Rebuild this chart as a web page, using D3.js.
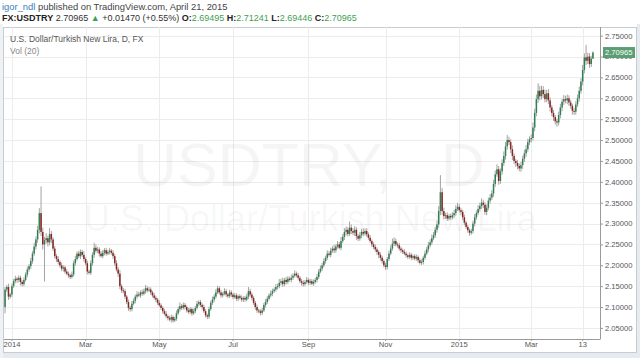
<!DOCTYPE html>
<html><head><meta charset="utf-8">
<script src="https://cdn.jsdelivr.net/npm/d3@7"></script>
<style>
html,body{margin:0;padding:0;background:#fff;}
svg{display:block;font-family:"Liberation Sans",Arial,sans-serif;}
</style></head><body>
<svg id="c" width="640" height="358"></svg>
<script>
// ---------- data ----------
const firstOpen = 2.100;
const closes = [
2.142,2.148,2.125,2.130,
2.150,2.162,2.168,2.165,2.170,2.160,2.155,2.165,
2.178,2.190,2.198,2.210,2.228,2.245,2.262,
2.285,2.325,2.280,2.250,2.260,2.265,2.255,2.275,
2.262,2.240,2.222,2.215,2.208,
2.200,2.192,2.195,2.185,2.180,
2.176,2.172,2.178,2.205,
2.215,2.228,2.222,2.232,2.225,
2.215,2.205,2.185,2.182,
2.205,2.225,2.242,2.235,2.238,2.228,
2.222,2.230,2.236,2.228,2.232,2.235,2.230,
2.222,2.205,2.190,2.180,
2.150,2.140,2.138,2.125,2.112,2.098,
2.095,2.108,2.115,2.125,2.130,
2.128,2.135,2.132,2.138,2.145,2.140,2.142,
2.135,2.128,2.122,2.118,2.110,2.104,2.098,2.090,2.084,2.078,
2.074,2.070,2.076,2.068,2.072,
2.085,2.095,2.102,2.098,2.105,2.100,
2.092,2.088,2.095,2.085,2.090,2.098,
2.108,2.112,2.105,2.100,
2.090,2.080,2.077,
2.095,2.110,2.118,2.125,2.135,
2.145,2.135,2.128,2.132,2.138,2.130,2.126,2.135,2.130,
2.124,2.128,2.120,2.126,2.122,2.118,
2.122,2.118,2.125,2.138,2.130,2.122,
2.110,2.100,2.092,2.090,
2.086,2.092,2.105,
2.112,2.120,2.128,2.132,2.138,2.142,2.148,2.150,
2.158,2.162,2.155,2.165,2.160,2.168,2.165,2.170,2.175,2.180,
2.176,2.170,2.162,2.158,2.155,2.160,
2.165,2.158,2.162,2.156,2.160,2.165,2.172,
2.185,2.192,2.200,2.210,2.218,2.228,
2.225,2.235,2.240,2.236,2.245,2.250,2.242,2.258,
2.268,2.280,2.285,2.275,2.290,2.282,2.278,2.285,
2.270,2.264,
2.272,2.280,2.276,2.282,2.274,
2.266,2.258,2.250,2.244,2.238,2.232,
2.225,2.218,2.210,2.200,2.196,
2.215,2.228,2.240,2.252,2.258,
2.250,2.248,2.240,2.236,2.232,2.228,
2.224,2.220,2.225,2.218,2.222,2.216,2.220,
2.212,2.206,2.208,
2.218,2.228,2.238,2.248,2.255,2.265,
2.272,2.285,2.298,
2.330,2.375,2.330,2.318,
2.320,2.312,2.318,2.315,2.320,2.325,
2.335,2.340,2.332,2.328,
2.315,2.302,2.292,
2.284,2.278,2.282,
2.300,2.315,2.325,2.335,2.342,
2.350,2.345,2.328,2.338,
2.355,2.362,2.372,
2.395,2.418,2.430,
2.402,
2.425,2.445,2.462,
2.485,2.500,2.495,
2.478,2.462,2.450,
2.445,2.438,2.432,2.440,
2.455,2.468,2.478,
2.495,2.502,2.505,
2.530,2.565,2.598,
2.618,2.605,2.620,
2.610,2.598,2.612,
2.595,2.578,2.565,
2.555,2.545,2.542,
2.560,2.578,2.592,2.598,
2.595,2.600,2.590,2.582,
2.570,2.568,
2.585,2.600,2.618,2.640,
2.668,2.698,
2.690,2.700,
2.682,2.69495,
2.70965
];
// upper / lower wick lengths, in thousandths of a lira
const wickUp = [
6,5,8,4,6,5,7,4,6,5, 4,6,5,7,5,8,6,9,7,10, 12,64,10,8,12,6,14,7,5,6, 5,7,4,6,5,4,6,5,4,7,
6,8,5,7,6,5,9,4,6,5, 7,6,12,8,6,5,6,7,5,6, 5,7,4,6,5,7,6,8,5,6, 5,4,6,5,7,6,5,8,6,5,
7,6,8,5,6,5,4,6,5,4, 6,5,4,5,6,4,5,6,4,5, 7,6,9,5,6,5,4,6,5,4, 6,5,7,4,5,4,6,5,4,6,
5,7,6,8,6,5,6,4,7,5, 4,6,5,4,6,5,4,5,6,4, 5,7,10,6,5,4,5,6,4,5, 6,5,7,6,5,8,6,5,7,6,
9,6,8,5,7,6,5,8,6,8, 5,6,4,5,6,5,7,4,6,5, 6,5,7,6,8,6,7,5,8,6, 7,6,9,5,8,6,10,7,9,8,
6,15,8,7,9,6,5,8,7,9, 6,7,5,6,4,5,6,5,4,6, 5,4,6,5,7,8,12,9,6,5, 6,5,4,6,5,4,6,5,4,5,
6,4,5,6,5,7,6,8,7,9, 8,7,9,12,41,10,8,6,7,5, 6,7,8,9,10,7,6,5,6,4, 5,4,6,7,8,6,9,8,10,7,
6,8,7,9,8,10,9,12,8,7, 9,11,10,12,8,7,9,6,5,7, 6,8,7,9,10,8,7,9,12,10, 11,18,12,10,9,11,8,10,7,6,
7,5,6,8,9,7,10,8,9,7, 6,5,7,8,9,10,8,12,10,30, 9,8,7,2.76
];
const wickDown = [
15,6,8,5,6,4,5,7,6,8, 6,5,4,6,5,7,6,5,7,8, 9,10,12,89,8,10,7,9,6,5, 7,6,5,6,7,5,4,6,5,4,
5,6,4,5,7,5,6,5,7,4, 5,6,7,5,6,7,4,5,6,5, 4,6,5,7,6,5,8,7,6,5, 6,5,7,6,5,4,6,5,4,6,
5,4,6,5,4,6,5,4,6,5, 4,5,6,4,5,6,4,7,5,4, 5,4,6,5,4,6,5,4,5,6, 4,5,4,6,5,6,4,5,6,5,
4,5,6,5,4,5,6,5,4,6, 5,4,6,5,4,5,6,4,5,6, 5,4,6,5,6,5,7,6,5,6, 5,4,6,5,4,5,6,4,5,6,
5,6,7,5,6,5,4,6,5,4, 5,6,5,7,6,5,4,6,5,4, 5,4,6,5,4,6,5,6,5,4, 6,5,7,6,5,4,6,5,7,8,
6,5,7,6,8,9,6,5,7,6, 5,6,5,4,6,5,6,7,8,7, 6,5,7,6,5,4,5,6,5,6, 5,6,5,4,6,5,4,6,5,4,
5,6,4,5,6,5,4,6,5,6, 5,6,7,8,10,9,8,7,6,5, 6,5,7,6,5,6,8,7,6,5, 6,7,5,6,7,6,5,6,7,8,
7,8,6,7,6,8,7,6,9,7, 8,7,9,8,7,9,10,8,9,8, 7,8,9,7,8,6,7,8,6,9, 8,9,10,8,9,8,7,9,10,8,
9,8,10,7,8,9,8,7,9,8, 7,9,8,7,6,8,7,9,8,10, 8,9,7,0.49
];
const tickDates  = ["2014-01-01","2014-03-03","2014-05-01","2014-07-01","2014-09-01","2014-11-03","2015-01-01","2015-03-02","2015-04-13"];
const tickLabels = ["2014","Mar","May","Jul","Sep","Nov","2015","Mar","13"];
const priceTicks = [2.05,2.10,2.15,2.20,2.25,2.30,2.35,2.40,2.45,2.50,2.55,2.60,2.65,2.70,2.75];
const lastPrice = 2.70965;

// ---------- trading days (weekdays) ----------
const fmt = d3.utcFormat("%Y-%m-%d");
const days = d3.utcDays(new Date(Date.UTC(2013,11,26)), new Date(Date.UTC(2015,3,22)))
  .filter(d => d.getUTCDay() !== 0 && d.getUTCDay() !== 6).map(fmt);
const n = Math.min(days.length, closes.length);
const bars = d3.range(n).map(i => {
  const o = i ? closes[i-1] : firstOpen, c = closes[i];
  return {k: days[i], o, c,
    h: Math.max(o,c) + (wickUp[i]||0)/1000,
    l: Math.min(o,c) - (wickDown[i]||0)/1000};
});

// ---------- layout ----------
const svg = d3.select("#c");
const L = 4, R = 600, T = 27, B = 339;
const x = d3.scaleBand().domain(days.slice(0,n)).range([4.2, 593.8]).padding(0);
const y = d3.scaleLinear().domain([2.0235, 2.7708]).range([B, T]);
const bw = x.bandwidth();

// outer frame
svg.append("rect").attr("x",0).attr("y",353).attr("width",640).attr("height",5).attr("fill","#e6ebef");
svg.append("rect").attr("x",637).attr("y",24).attr("width",3).attr("height",334).attr("fill","#e6ebef");
svg.append("rect").attr("x",0).attr("y",24).attr("width",3).attr("height",334).attr("fill","#eef2f5");
svg.append("rect").attr("x",3.5).attr("y",27.5).attr("width",633).attr("height",325)
  .attr("fill","#fff").attr("stroke","#c6ccd2");

// header
const h1 = svg.append("text").attr("x",2).attr("y",10).attr("font-size",9.4);
h1.append("tspan").attr("fill","#3a80c3").text("igor_ndl");
h1.append("tspan").attr("fill","#444").text(" published on TradingView.com, April 21, 2015");
const h2 = svg.append("text").attr("x",2).attr("y",20.5).attr("font-size",9).attr("fill","#333");
const green = "#3f9f52";
h2.append("tspan").attr("font-weight","bold").attr("fill","#222").text("FX:USDTRY");
h2.append("tspan").text(" 2.70965 ");
h2.append("tspan").attr("fill",green).text("▲");
h2.append("tspan").text(" +0.01470 (+0.55%) ");
[["O:","2.69495"],["H:","2.71241"],["L:","2.69446"],["C:","2.70965"]].forEach(([a,b],j) => {
  h2.append("tspan").attr("font-weight","bold").attr("fill","#222").text((j?" ":"")+a);
  h2.append("tspan").attr("fill",green).text(b);
});

// grid
const grid = svg.append("g");
grid.selectAll("line.h").data(priceTicks).join("line")
  .attr("x1",L).attr("x2",R).attr("y1",d=>Math.round(y(d))+0.5).attr("y2",d=>Math.round(y(d))+0.5)
  .attr("stroke","#ececec");
grid.selectAll("line.v").data(tickDates).join("line")
  .attr("x1",d=>Math.round(x(d)+bw/2)+0.5).attr("x2",d=>Math.round(x(d)+bw/2)+0.5)
  .attr("y1",T).attr("y2",B).attr("stroke","#ececec");

// watermark
svg.append("text").attr("x",133).attr("y",186).attr("font-size",61).attr("word-spacing",32)
  .attr("fill","#000").attr("fill-opacity",0.04).text("USDTRY, D");
svg.append("text").attr("x",84).attr("y",231).attr("font-size",36)
  .attr("fill","#000").attr("fill-opacity",0.04).text("U.S. Dollar/Turkish New Lira");

// title
svg.append("text").attr("x",10).attr("y",42).attr("font-size",8.5).attr("fill","#555")
  .text("U.S. Dollar/Turkish New Lira, D, FX");
svg.append("text").attr("x",10).attr("y",54).attr("font-size",8.5).attr("fill","#888")
  .text("Vol (20)");

// candles
const cg = svg.append("g");
cg.selectAll("line").data(bars).join("line")
  .attr("x1",d=>x(d.k)+bw/2).attr("x2",d=>x(d.k)+bw/2)
  .attr("y1",d=>y(d.h)).attr("y2",d=>y(d.l))
  .attr("stroke","#a3a3a3").attr("stroke-width",1);
cg.selectAll("rect").data(bars).join("rect")
  .attr("x",d=>x(d.k)+bw/2-0.75).attr("width",1.5)
  .attr("y",d=>y(Math.max(d.o,d.c)))
  .attr("height",d=>Math.max(1, Math.abs(y(d.o)-y(d.c))))
  .attr("fill",d=>d.c>=d.o ? "#2f7f50" : "#8a2420");

// axes
const ya = svg.append("g").attr("transform",`translate(${R},0)`)
  .call(d3.axisRight(y).tickValues(priceTicks).tickFormat(d3.format(".5f")).tickSize(3).tickPadding(2).tickSizeOuter(0));
ya.select(".domain").remove();
ya.selectAll("line").attr("stroke","#999");
ya.selectAll("text").attr("font-size",7.6).attr("fill","#555").attr("font-family","Liberation Sans, Arial, sans-serif");
svg.append("line").attr("x1",R+0.5).attr("x2",R+0.5).attr("y1",T).attr("y2",B).attr("stroke","#9a9a9a");

const xa = svg.append("g").attr("transform",`translate(0,${B})`)
  .call(d3.axisBottom(x).tickValues(tickDates).tickFormat((d,i)=>tickLabels[i]).tickSize(2).tickPadding(1).tickSizeOuter(0));
xa.select(".domain").remove();
xa.selectAll("line").attr("stroke","#999");
xa.selectAll("text").attr("font-size",7.6).attr("fill","#555").attr("font-family","Liberation Sans, Arial, sans-serif");
svg.append("line").attr("x1",L).attr("x2",R+0.5).attr("y1",B+0.5).attr("y2",B+0.5).attr("stroke","#9a9a9a");

// last price label (drawn over the 2.70000 tick label, as in the original)
const ly = y(lastPrice);
svg.append("rect").attr("x",603).attr("y",ly-5.5).attr("width",32).attr("height",11).attr("fill","#5a9e74");
svg.append("text").attr("x",605).attr("y",ly).attr("dy","0.35em").attr("font-size",7.6).attr("fill","#fff")
  .text(d3.format(".5f")(lastPrice));
</script>
</body></html>
